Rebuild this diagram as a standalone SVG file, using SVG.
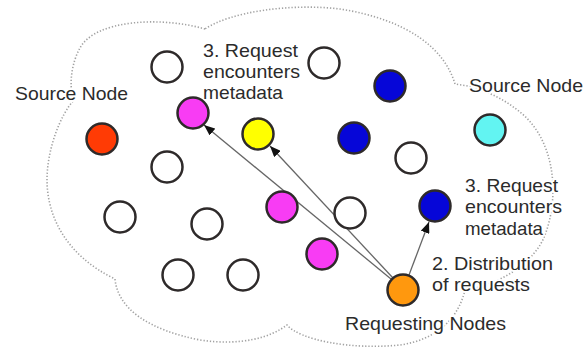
<svg xmlns="http://www.w3.org/2000/svg" width="588" height="352" viewBox="0 0 588 352">
  <style>
    .cloud { fill: none; stroke: #a2a2a2; stroke-width: 1.6; stroke-dasharray: 1.3 1.9; }
    .node { stroke: #2e2a2a; stroke-width: 2.5; }
    .plain { fill: #ffffff; }
    .red { fill: #ff3b05; }
    .magenta { fill: #f83cf4; }
    .yellow { fill: #ffff00; }
    .blue { fill: #0606d8; }
    .cyan { fill: #62f4f2; }
    .orange { fill: #ff980e; }
    .edge { stroke: #666666; stroke-width: 1.3; fill: none; marker-end: url(#arrow); }
    .label { font-family: "Liberation Sans", Arial, sans-serif; font-size: 19px; fill: #2b2b2b;
             stroke: #ffffff; stroke-width: 4; stroke-linejoin: round; paint-order: stroke; }
  </style>
  <defs>
    <marker id="arrow" markerUnits="userSpaceOnUse" markerWidth="11" markerHeight="9"
            viewBox="0 0 11 9" refX="11" refY="4.5" orient="auto">
      <path d="M0,0 L11,4.5 L0,9 Z" fill="#111111"/>
    </marker>
  </defs>

  <rect width="588" height="352" fill="#ffffff"/>

  <!-- dotted cloud outline of the network -->
  <path class="cloud" d="M205,29 C160,16 95,20 80,48 C72,62 68,85 74,100
                         C60,115 47,150 47,180 C47,215 65,255 115,279
                         C118,310 150,330 200,340 C240,346 270,338 287,325
                         C300,340 350,350 400,345 C435,340 458,320 465,290
                         C500,285 535,262 545,235 C560,195 555,140 520,112
                         C505,100 490,92 468,86 L455,84
                         C445,50 410,20 340,9 C290,3 230,12 205,29 Z"/>

  <!-- labels -->
  <g id="labels">
    <text class="label" x="15" y="100" textLength="113" lengthAdjust="spacingAndGlyphs">Source Node</text>
    <text class="label" x="469" y="92" textLength="114" lengthAdjust="spacingAndGlyphs">Source Node</text>
    <text class="label" x="203" y="57" textLength="95" lengthAdjust="spacingAndGlyphs">3. Request</text>
    <text class="label" x="203" y="78" textLength="97" lengthAdjust="spacingAndGlyphs">encounters</text>
    <text class="label" x="203" y="99" textLength="80" lengthAdjust="spacingAndGlyphs">metadata</text>
    <text class="label" x="465" y="192" textLength="93" lengthAdjust="spacingAndGlyphs">3. Request</text>
    <text class="label" x="465" y="213" textLength="97" lengthAdjust="spacingAndGlyphs">encounters</text>
    <text class="label" x="465" y="235" textLength="78" lengthAdjust="spacingAndGlyphs">metadata</text>
    <text class="label" x="432" y="270" textLength="121" lengthAdjust="spacingAndGlyphs">2. Distribution</text>
    <text class="label" x="432" y="291" textLength="98" lengthAdjust="spacingAndGlyphs">of requests</text>
    <text class="label" x="345" y="330" textLength="161" lengthAdjust="spacingAndGlyphs">Requesting Nodes</text>
  </g>

  <!-- request paths from the requesting node -->
  <g id="connectors">
    <line class="edge" x1="391" y1="279" x2="204" y2="125"/>
    <line class="edge" x1="393" y1="278" x2="270" y2="146"/>
    <line class="edge" x1="409" y1="275" x2="429" y2="222"/>
  </g>

  <!-- peers -->
  <g id="n-white-1"><circle class="node plain" cx="167" cy="67" r="15.5"/></g>
  <g id="n-white-2"><circle class="node plain" cx="324" cy="63" r="15.5"/></g>
  <g id="n-white-3"><circle class="node plain" cx="167" cy="167" r="15.5"/></g>
  <g id="n-white-4"><circle class="node plain" cx="411" cy="158" r="15.5"/></g>
  <g id="n-white-5"><circle class="node plain" cx="120" cy="217" r="15.5"/></g>
  <g id="n-white-6"><circle class="node plain" cx="207" cy="224" r="15.5"/></g>
  <g id="n-white-7"><circle class="node plain" cx="350" cy="213" r="15.5"/></g>
  <g id="n-white-8"><circle class="node plain" cx="178" cy="275" r="15.5"/></g>
  <g id="n-white-9"><circle class="node plain" cx="243" cy="275" r="15.5"/></g>

  <g id="source-left"><circle class="node red" cx="102" cy="139" r="15.5"/></g>
  <g id="source-right"><circle class="node cyan" cx="490" cy="130" r="15.5"/></g>

  <g id="meta-magenta-1"><circle class="node magenta" cx="193" cy="113" r="15.5"/></g>
  <g id="meta-magenta-2"><circle class="node magenta" cx="282" cy="207" r="15.5"/></g>
  <g id="meta-magenta-3"><circle class="node magenta" cx="322" cy="254" r="15.5"/></g>
  <g id="meta-yellow"><circle class="node yellow" cx="258" cy="134" r="15.5"/></g>

  <g id="meta-blue-1"><circle class="node blue" cx="390" cy="86" r="15.5"/></g>
  <g id="meta-blue-2"><circle class="node blue" cx="354" cy="138" r="15.5"/></g>
  <g id="meta-blue-3"><circle class="node blue" cx="435" cy="206" r="15.5"/></g>

  <g id="requester"><circle class="node orange" cx="403" cy="290" r="15.5"/></g>
</svg>
